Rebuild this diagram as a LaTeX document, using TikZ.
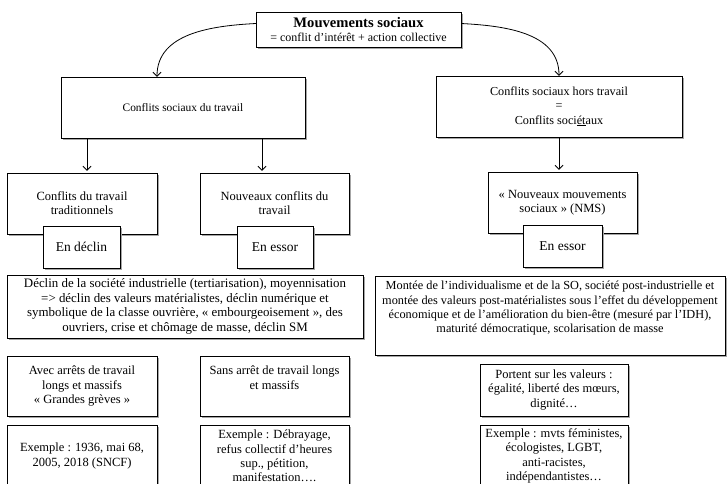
\documentclass[tikz,border=0pt]{standalone}
\usepackage{fontspec}
\setmainfont{Liberation Serif}
\usetikzlibrary{arrows.meta,shadows}

\begin{document}
\begin{tikzpicture}[
  x=1pt, y=1pt,
  font=\fontsize{12.5}{14.3}\selectfont,
  b/.style={draw, fill=white, align=center, inner sep=3pt,
    drop shadow={shadow xshift=2pt, shadow yshift=-2pt, fill=black!35, opacity=1}},
  tag/.style={b, minimum height=42pt, font=\fontsize{13.5}{14.3}\selectfont},
  arr/.style={-{Straight Barb[length=4pt,width=8pt]}, thick}
]
\useasboundingbox (0,0) rectangle (727,-483);
\clip (0,0) rectangle (727,-483);

% top
\node[b, minimum width=205pt, minimum height=35pt] (mvt) at (358.5,-29.5)
  {{\fontsize{14.6}{15}\selectfont\bfseries Mouvements sociaux}\\[-1pt]
   {\fontsize{12}{13}\selectfont = conflit d'intérêt + action collective}};

% second level
\node[b, minimum width=244pt, minimum height=61pt, font=\fontsize{11.4}{14.3}\selectfont] (travail) at (183,-107.5)
  {Conflits sociaux du travail};
\node[b, minimum width=246pt, minimum height=61pt, font=\fontsize{12.2}{14.3}\selectfont] (hors) at (559,-106.5)
  {Conflits sociaux hors travail\\ =\\ Conflits soci\underline{ét}aux};

% third level
\node[b, minimum width=150pt, minimum height=61pt] (trad) at (82,-203.5) {Conflits du travail\\ traditionnels};
\node[b, minimum width=149pt, minimum height=61pt] (nouv) at (274.5,-203.5) {Nouveaux conflits du\\ travail};
\node[b, minimum width=149pt, minimum height=61pt] (nms) at (562.5,-202.5) {«~Nouveaux mouvements\\ sociaux~» (NMS)};
\node[tag, minimum width=77pt] (declin) at (81.5,-247) {En déclin};
\node[tag, minimum width=76pt] (essorA) at (275,-247) {En essor};
\node[tag, minimum width=79pt] (essorB) at (562.5,-246) {En essor};

% context
\node[b, minimum width=356pt, minimum height=63pt, font=\fontsize{12.9}{14.6}\selectfont] (ctxA) at (185,-306.5)
  {Déclin de la société industrielle (tertiarisation), moyennisation\\
   => déclin des valeurs matérialistes, déclin numérique et\\
   symbolique de la classe ouvrière, «~embourgeoisement~», des\\
   ouvriers, crise et chômage de masse, déclin SM};
\node[b, minimum width=350pt, minimum height=79pt, text depth=17pt, font=\fontsize{12.3}{14.4}\selectfont] (ctxB) at (550,-315.5)
  {Montée de l'individualisme et de la SO, société post-industrielle et\\
   montée des valeurs post-matérialistes sous l'effet du développement\\
   économique et de l'amélioration du bien-être (mesuré par l'IDH),\\
   maturité démocratique, scolarisation de masse};

% forms
\node[b, minimum width=150pt, minimum height=60pt] (avec) at (82,-386)
  {Avec arrêts de travail\\ longs et massifs\\ «~Grandes grèves~»};
\node[b, minimum width=149pt, minimum height=60pt, text depth=17pt] (sans) at (274.5,-386)
  {Sans arrêt de travail longs\\ et massifs};
\node[b, minimum width=148pt, minimum height=52pt] (valeurs) at (554,-390)
  {Portent sur les valeurs~:\\ égalité, liberté des mœurs,\\ dignité…};

% examples
\node[b, minimum width=150pt, minimum height=62pt] (exA) at (82,-456)
  {Exemple~: 1936, mai 68,\\ 2005, 2018 (SNCF)};
\node[b, minimum width=149pt, minimum height=62pt] (exB) at (274.5,-456)
  {Exemple~: Débrayage,\\ refus collectif d'heures\\ sup., pétition,\\ manifestation….};
\node[b, minimum width=148pt, minimum height=62pt] (exC) at (554,-456)
  {Exemple~: mvts féministes,\\ écologistes, LGBT,\\ anti-racistes,\\ indépendantistes…};

% arrows
\draw[arr] ([yshift=6pt]mvt.west) to[out=183,in=90] ([xshift=-26pt]travail.north);
\draw[arr] ([yshift=6pt]mvt.east) to[out=-3,in=90] (hors.north);
\draw[arr] ([xshift=5pt]trad.north |- travail.south) -- ([xshift=5pt,yshift=2pt]trad.north);
\draw[arr] ([xshift=-12.5pt]nouv.north |- travail.south) -- ([xshift=-12.5pt,yshift=2pt]nouv.north);
\draw[arr] (hors.south) -- ([yshift=2pt]hors.south |- nms.north);
\end{tikzpicture}
\end{document}
